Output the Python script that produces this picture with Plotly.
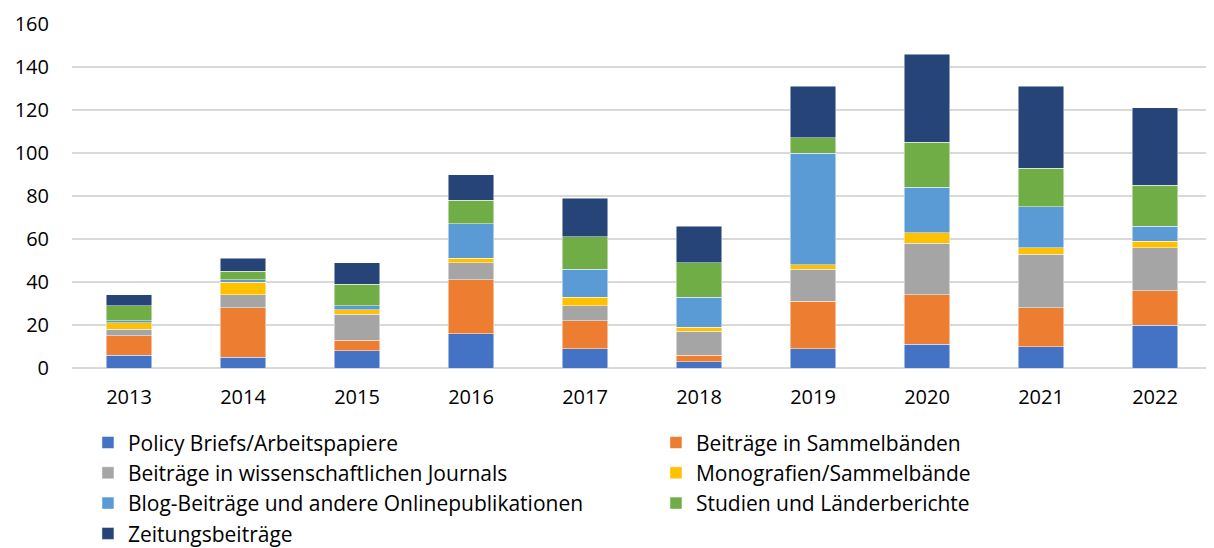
import plotly.graph_objects as go

years = ["2013", "2014", "2015", "2016", "2017", "2018", "2019", "2020", "2021", "2022"]
series_names = [
    "Policy Briefs/Arbeitspapiere",
    "Beiträge in Sammelbänden",
    "Beiträge in wissenschaftlichen Journals",
    "Monografien/Sammelbände",
    "Blog-Beiträge und andere Onlinepublikationen",
    "Studien und Länderberichte",
    "Zeitungsbeiträge",
]
policy_briefs = [6, 5, 8, 16, 9, 3, 9, 11, 10, 20]
sammelbaende_beitraege = [9, 23, 5, 25, 13, 3, 22, 23, 18, 16]
journals = [3, 6, 12, 8, 7, 11, 15, 24, 25, 20]
monografien = [3, 6, 2, 2, 4, 2, 2, 5, 3, 3]
blog = [1, 1, 2, 16, 13, 14, 52, 21, 19, 7]
studien = [7, 4, 10, 11, 15, 16, 7, 21, 18, 19]
zeitung = [5, 6, 10, 12, 18, 17, 24, 41, 38, 36]
y_ticks = [0, 20, 40, 60, 80, 100, 120, 140, 160]

values = [policy_briefs, sammelbaende_beitraege, journals, monografien, blog, studien, zeitung]
colors = ["#4472C4", "#ED7D31", "#A5A5A5", "#FFC000", "#5B9BD5", "#70AD47", "#264478"]

fig = go.Figure()
for name, vals, col in zip(series_names, values, colors):
    fig.add_trace(go.Bar(
        x=years, y=vals, name=name,
        marker=dict(color=col, line=dict(color="rgba(255,255,255,0.6)", width=0.8)),
    ))

fig.update_layout(
    barmode="stack",
    bargap=0.6,
    width=1214, height=548,
    margin=dict(l=64, r=10, t=16, b=188, autoexpand=False),
    plot_bgcolor="white", paper_bgcolor="white",
    font=dict(family="'Open Sans', sans-serif", size=20, color="#000000"),
    xaxis=dict(showgrid=False, ticks="", showline=False, tickfont=dict(size=20),
               ticklabelstandoff=15, automargin=False),
    yaxis=dict(range=[0, 160], tickvals=y_ticks, showgrid=True, gridcolor="#D9D9D9",
               gridwidth=1.5, zeroline=True, zerolinecolor="#D9D9D9", zerolinewidth=1.5,
               tickfont=dict(size=20), ticklabelstandoff=22, automargin=False),
    legend=dict(orientation="h", x=0.014, xanchor="left", y=-0.158, yanchor="top",
                entrywidth=523, entrywidthmode="pixels", font=dict(size=21),
                traceorder="normal", itemwidth=30),
    showlegend=True,
)

fig.write_html("out.html")
